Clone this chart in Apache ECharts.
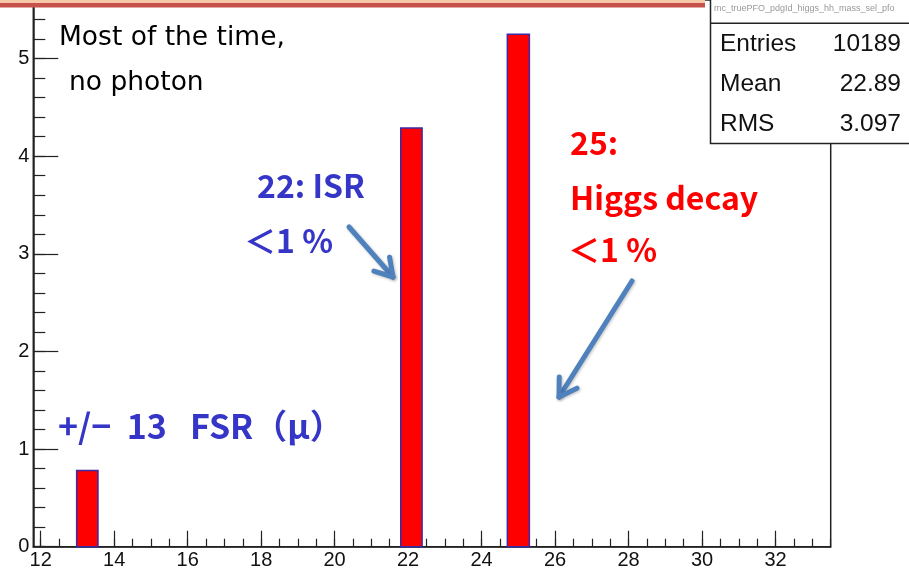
<!DOCTYPE html>
<html><head><meta charset="utf-8">
<script src="https://cdn.jsdelivr.net/npm/echarts@6/dist/echarts.min.js"></script>
<style>html,body{margin:0;padding:0;background:#fff}#c{width:909px;height:575px}</style>
</head><body><div id="c"></div>
<script>
// ---- data ----
const binLow = [12.98, 21.80, 24.70];
const binHigh = [13.56, 22.38, 25.30];
const counts = [0.78, 4.29, 5.25];
const xTickLabels = [12, 14, 16, 18, 20, 22, 24, 26, 28, 30, 32];
const yTickLabels = [0, 1, 2, 3, 4, 5];
const statNames = ['Entries', 'Mean', 'RMS'];
const statValues = ['10189', '22.89', '3.097'];
const histName = 'mc_truePFO_pdgId_higgs_hh_mass_sel_pfo';

// minor tick positions (scale only)
const xMinor = []; for (let v = 12; v <= 33.5001; v += 0.5) xMinor.push(+v.toFixed(1));
const yMinor = []; for (let v = 0; v <= 5.6001; v += 0.2) yMinor.push(+v.toFixed(1));

const AX = '#222';
const BLUE = '#3535c8';
const RED = '#ff0000';
const ARROW = '#4f81bd';
const JP = '"Noto Sans CJK JP", "Noto Sans", sans-serif';
const DJ = '"DejaVu Sans", sans-serif';
const HV = '"Liberation Sans", Arial, sans-serif';

function arrow(x1, y1, x2, y2) {
  const a = Math.atan2(y2 - y1, x2 - x1), L = 20, s = 0.55;
  const h1 = [x2 - L * Math.cos(a - s), y2 - L * Math.sin(a - s)];
  const h2 = [x2 - L * Math.cos(a + s), y2 - L * Math.sin(a + s)];
  const st = {stroke: ARROW, lineWidth: 5, lineCap: 'round', lineJoin: 'round', fill: null,
              shadowBlur: 3, shadowColor: 'rgba(0,0,0,0.25)', shadowOffsetX: 1, shadowOffsetY: 1};
  return [
    {type: 'line', shape: {x1: x1, y1: y1, x2: x2, y2: y2}, style: st, z: 50},
    {type: 'polyline', shape: {points: [h1, [x2, y2], h2]}, style: st, z: 50}
  ];
}
function txt(t, x, y, font, color, align) {
  return {type: 'text', x: x, y: y, z: 60,
    style: {text: t, font: font, fill: color, align: align || 'left', verticalAlign: 'middle'}};
}

const graphics = [
  // slide header line
  {type: 'rect', shape: {x: 0, y: 0, width: 705, height: 3}, style: {fill: '#f4c8a8'}, z: 40},
  {type: 'rect', shape: {x: 0, y: 3, width: 705, height: 4.5}, style: {fill: '#c8514b'}, z: 40},
  // stat box
  {type: 'rect', shape: {x: 710.5, y: -5, width: 220, height: 148.5}, style: {fill: '#fff', stroke: AX, lineWidth: 1.5}, z: 40},
  {type: 'line', shape: {x1: 710.5, y1: 23.3, x2: 909, y2: 23.3}, style: {stroke: AX, lineWidth: 1.5}, z: 41},
  txt(histName, 714, 9, '9px ' + HV, '#999'),
  txt(statNames[0], 720, 44, '24.5px ' + HV, '#111'),
  txt(statNames[1], 720, 84, '24.5px ' + HV, '#111'),
  txt(statNames[2], 720, 124, '24.5px ' + HV, '#111'),
  txt(statValues[0], 901, 44, '24.5px ' + HV, '#111', 'right'),
  txt(statValues[1], 901, 84, '24.5px ' + HV, '#111', 'right'),
  txt(statValues[2], 901, 124, '24.5px ' + HV, '#111', 'right'),
  // annotations
  txt('Most of the time,', 59, 38, '26.5px ' + DJ, '#000'),
  txt('no photon', 69, 83, '26.5px ' + DJ, '#000'),
  txt('22: ISR', 257, 186, 'bold 32px ' + JP, BLUE),
  txt('＜1 %', 244, 241, 'bold 32px ' + JP, BLUE),
  txt('25:', 570, 143, 'bold 32px ' + JP, RED),
  txt('Higgs decay', 570, 198, 'bold 32px ' + JP, RED),
  txt('＜1 %', 568, 250, 'bold 32px ' + JP, RED),
  txt('+/−  13   FSR（μ）', 58, 426, 'bold 34px ' + JP, BLUE)
].concat(arrow(349, 227, 393, 277), arrow(632, 281, 559, 397));

const chart = echarts.init(document.getElementById('c'), null, {renderer: 'canvas'});
chart.setOption({
  animation: false,
  backgroundColor: '#fff',
  grid: {left: 33.3, right: 78.3, top: -2, bottom: 28.3, show: true, borderColor: AX, borderWidth: 1.5, backgroundColor: 'transparent'},
  xAxis: [
    {type: 'value', min: 11.8, max: 33.5, position: 'bottom',
     axisLine: {show: true, onZero: false, lineStyle: {color: AX, width: 1.5}},
     axisTick: {show: true, inside: true, length: 16, customValues: xTickLabels, lineStyle: {color: AX, width: 1.2}},
     axisLabel: {show: true, customValues: xTickLabels, color: '#111', fontSize: 20, fontFamily: HV, margin: 4},
     splitLine: {show: false}},
    {type: 'value', min: 11.8, max: 33.5, position: 'bottom',
     axisLine: {show: false, onZero: false},
     axisTick: {show: true, inside: true, length: 8, customValues: xMinor, lineStyle: {color: AX, width: 1.2}},
     axisLabel: {show: false}, splitLine: {show: false}}
  ],
  yAxis: [
    {type: 'value', min: 0, max: 5.6, position: 'left',
     axisLine: {show: true, onZero: false, lineStyle: {color: AX, width: 1.5}},
     axisTick: {show: true, inside: true, length: 25, customValues: yTickLabels, lineStyle: {color: AX, width: 1.2}},
     axisLabel: {show: true, customValues: yTickLabels, color: '#111', fontSize: 20, fontFamily: HV, margin: 4},
     splitLine: {show: false}},
    {type: 'value', min: 0, max: 5.6, position: 'left',
     axisLine: {show: false, onZero: false},
     axisTick: {show: true, inside: true, length: 12, customValues: yMinor, lineStyle: {color: AX, width: 1.2}},
     axisLabel: {show: false}, splitLine: {show: false}}
  ],
  series: [{
    type: 'custom', xAxisIndex: 0, yAxisIndex: 0,
    data: binLow.map((l, i) => [l, binHigh[i], counts[i]]),
    encode: {x: [0, 1], y: 2},
    renderItem: function (params, api) {
      const p0 = api.coord([api.value(0), api.value(2)]);
      const p1 = api.coord([api.value(1), 0]);
      return {type: 'rect', shape: {x: p0[0], y: p0[1], width: p1[0] - p0[0], height: p1[1] - p0[1]},
              style: {fill: RED, stroke: '#3b2aa8', lineWidth: 1.5}};
    }
  }],
  graphic: graphics
});
</script></body></html>
